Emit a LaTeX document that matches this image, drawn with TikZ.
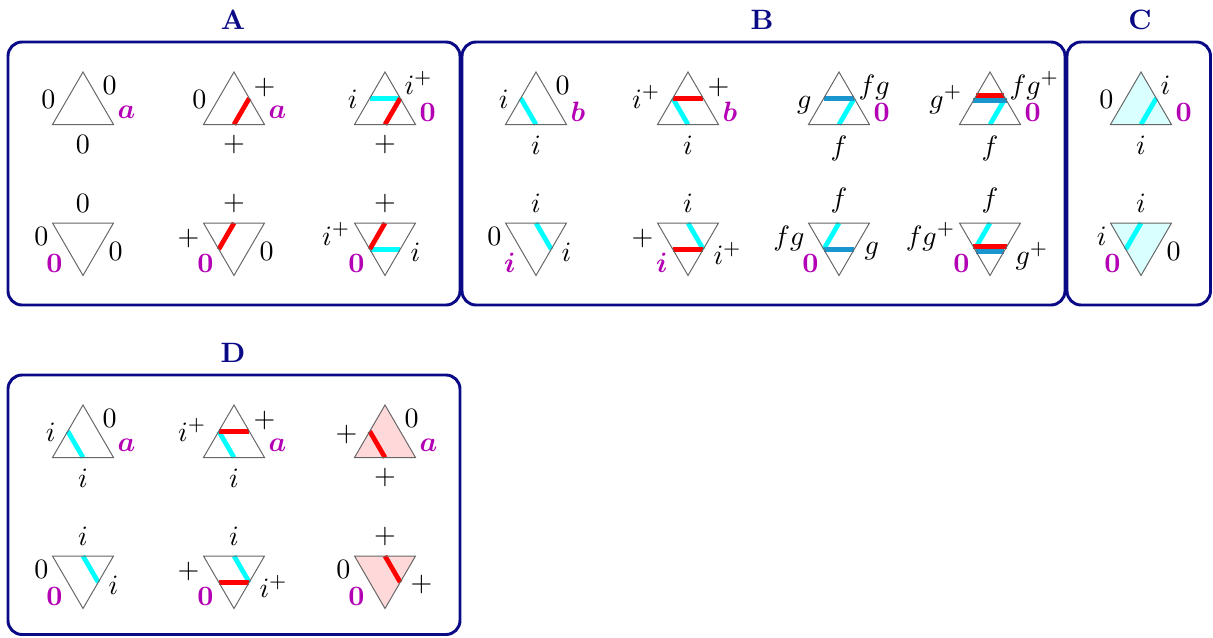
\documentclass[tikz,border=0pt]{standalone}
\usetikzlibrary{calc}
\definecolor{navyc}{RGB}{10,10,135}
\definecolor{magc}{RGB}{180,0,180}
\definecolor{bluec}{RGB}{25,150,205}
\definecolor{cyanc}{RGB}{0,255,255}
\definecolor{redc}{RGB}{255,0,0}
\definecolor{pinkf}{RGB}{255,217,217}
\definecolor{cyanf}{RGB}{217,255,255}
\newcommand\mg[1]{{\boldmath$#1$}}
% up triangle: name, cx, y0 (apex), fill, stripes
\newcommand\UT[5]{%
 \coordinate (#1T) at (#2,#3);
 \coordinate (#1L) at (#2-30.5,#3+52.5);
 \coordinate (#1R) at (#2+30.5,#3+52.5);
 \coordinate (#1ml) at (#2-15.25,#3+26.25);
 \coordinate (#1mr) at (#2+15.25,#3+26.25);
 \coordinate (#1mb) at (#2,#3+52.5);
 \coordinate (#1al) at (#2-13.8,#3+23.75);
 \coordinate (#1ar) at (#2+13.8,#3+23.75);
 \coordinate (#1bl) at (#2-16.7,#3+28.75);
 \coordinate (#1br) at (#2+16.7,#3+28.75);
 \fill[#4] (#1T)--(#1L)--(#1R)--cycle;
 #5
 \draw[tri] (#1T)--(#1L)--(#1R)--cycle;
}
% down triangle: name, cx, y0 (top side), fill, stripes
\newcommand\DT[5]{%
 \coordinate (#1L) at (#2-30.5,#3);
 \coordinate (#1R) at (#2+30.5,#3);
 \coordinate (#1B) at (#2,#3+52.5);
 \coordinate (#1ml) at (#2-15.25,#3+26.25);
 \coordinate (#1mr) at (#2+15.25,#3+26.25);
 \coordinate (#1mt) at (#2,#3);
 \coordinate (#1al) at (#2-16.7,#3+23.75);
 \coordinate (#1ar) at (#2+16.7,#3+23.75);
 \coordinate (#1bl) at (#2-13.8,#3+28.75);
 \coordinate (#1br) at (#2+13.8,#3+28.75);
 \fill[#4] (#1L)--(#1R)--(#1B)--cycle;
 #5
 \draw[tri] (#1L)--(#1R)--(#1B)--cycle;
}
% up labels: name, cx, y0, left, top-right, magenta, bottom
\newcommand\UL[7]{%
 \node[lab,anchor=base east] (#1-l) at (#2-27,#3+36) {$#4$};
 \node[lab,anchor=base west] (#1-tr) at (#2+19,#3+22) {$#5$};
 \node[mag,anchor=west] (#1-m) at (#2+34,#3+40) {\mg{#6}};
 \node[lab,anchor=north] (#1-b) at (#2,#3+63) {$#7$};
}
% down labels: name, cx, y0, top, left, magenta, right
\newcommand\DL[7]{%
 \node[lab,anchor=south] (#1-t) at (#2,#3-10) {$#4$};
 \node[lab,anchor=base east] (#1-l) at (#2-34,#3+22) {$#5$};
 \node[mag,anchor=east] (#1-m) at (#2-20,#3+40) {\mg{#6}};
 \node[lab,anchor=north west] (#1-r) at (#2+25,#3+19) {$#7$};
}
\tikzset{
 tri/.style={draw=black!60, line width=0.35pt, line join=miter},
 stripe/.style={line width=1.7pt, line cap=butt},
 rs/.style={stripe, draw=redc},
 cs/.style={stripe, draw=cyanc},
 bs/.style={stripe, draw=bluec},
 lab/.style={inner sep=0pt, text=black},
 mag/.style={inner sep=0pt, text=magc},
 frame/.style={draw=navyc, line width=1.05pt, rounded corners=5pt},
 ttl/.style={text=navyc, font=\bfseries, inner sep=0pt},
 nofill/.style={fill=white},
}
\begin{document}
\begin{tikzpicture}[x=0.357pt,y=-0.357pt]
\useasboundingbox (0,0) rectangle (1213,637);
% frames
\draw[frame] (8,42) rectangle (460,305);
\draw[frame] (462,42) rectangle (1065,305);
\draw[frame] (1067,42) rectangle (1210.5,305);
\draw[frame] (8,375) rectangle (460,634.5);
\node[ttl] (tA) at (233,20) {A};
\node[ttl] (tB) at (762,20) {B};
\node[ttl] (tC) at (1140,20) {C};
\node[ttl] (tD) at (233,353) {D};
% ---------- A row 1
\UT{a1}{83}{72}{white}{}
\UL{a1}{83}{72}{0}{0}{a}{0}
\UT{a2}{234}{72}{white}{\draw[rs] (a2mb)--(a2mr);}
\UL{a2}{234}{72}{0}{+}{a}{+}
\UT{a3}{385}{72}{white}{\draw[cs] (a3ml)--(a3mr); \draw[rs] (a3mb)--(a3mr);}
\UL{a3}{385}{72}{i}{i^+}{0}{+}
% ---------- A row 2
\DT{a4}{83}{223}{white}{}
\DL{a4}{83}{223}{0}{0}{0}{0}
\DT{a5}{234}{223}{white}{\draw[rs] (a5mt)--(a5ml);}
\DL{a5}{234}{223}{+}{+}{0}{0}
\DT{a6}{385}{223}{white}{\draw[cs] (a6ml)--(a6mr); \draw[rs] (a6mt)--(a6ml);}
\DL{a6}{385}{223}{+}{i^+}{0}{i}
% ---------- B row 1
\UT{b1}{536}{72}{white}{\draw[cs] (b1ml)--(b1mb);}
\UL{b1}{536}{72}{i}{0}{b}{i}
\UT{b2}{688}{72}{white}{\draw[cs] (b2ml)--(b2mb); \draw[rs] (b2ml)--(b2mr);}
\UL{b2}{688}{72}{i^+}{+}{b}{i}
\UT{b3}{839}{72}{white}{\draw[cs] (b3mb)--(b3mr); \draw[bs] (b3ml)--(b3mr);}
\UL{b3}{839}{72}{g}{fg}{0}{f}
\UT{b4}{990}{72}{white}{\draw[cs] (b4mb)--(b4mr); \draw[rs] (b4al)--(b4ar); \draw[bs] (b4bl)--(b4br);}
\UL{b4}{990}{72}{g^+}{fg^+}{0}{f}
% ---------- B row 2
\DT{b5}{536}{223}{white}{\draw[cs] (b5mt)--(b5mr);}
\DL{b5}{536}{223}{i}{0}{i}{i}
\DT{b6}{688}{223}{white}{\draw[cs] (b6mt)--(b6mr); \draw[rs] (b6ml)--(b6mr);}
\DL{b6}{688}{223}{i}{+}{i}{i^+}
\DT{b7}{839}{223}{white}{\draw[cs] (b7mt)--(b7ml); \draw[bs] (b7ml)--(b7mr);}
\DL{b7}{839}{223}{f}{fg}{0}{g}
\DT{b8}{990}{223}{white}{\draw[cs] (b8mt)--(b8ml); \draw[rs] (b8al)--(b8ar); \draw[bs] (b8bl)--(b8br);}
\DL{b8}{990}{223}{f}{fg^+}{0}{g^+}
% ---------- C
\UT{c1}{1141}{72}{cyanf}{\draw[cs] (c1mb)--(c1mr);}
\UL{c1}{1141}{72}{0}{i}{0}{i}
\DT{c2}{1141}{223}{cyanf}{\draw[cs] (c2mt)--(c2ml);}
\DL{c2}{1141}{223}{i}{i}{0}{0}
% ---------- D row 1
\UT{d1}{83}{405}{white}{\draw[cs] (d1ml)--(d1mb);}
\UL{d1}{83}{405}{i}{0}{a}{i}
\UT{d2}{234}{405}{white}{\draw[cs] (d2ml)--(d2mb); \draw[rs] (d2ml)--(d2mr);}
\UL{d2}{234}{405}{i^+}{+}{a}{i}
\UT{d3}{385}{405}{pinkf}{\draw[rs] (d3ml)--(d3mb);}
\UL{d3}{385}{405}{+}{0}{a}{+}
% ---------- D row 2
\DT{d4}{83}{556}{white}{\draw[cs] (d4mt)--(d4mr);}
\DL{d4}{83}{556}{i}{0}{0}{i}
\DT{d5}{234}{556}{white}{\draw[cs] (d5mt)--(d5mr); \draw[rs] (d5ml)--(d5mr);}
\DL{d5}{234}{556}{i}{+}{0}{i^+}
\DT{d6}{385}{556}{pinkf}{\draw[rs] (d6mt)--(d6mr);}
\DL{d6}{385}{556}{+}{0}{0}{+}
\end{tikzpicture}
\end{document}
